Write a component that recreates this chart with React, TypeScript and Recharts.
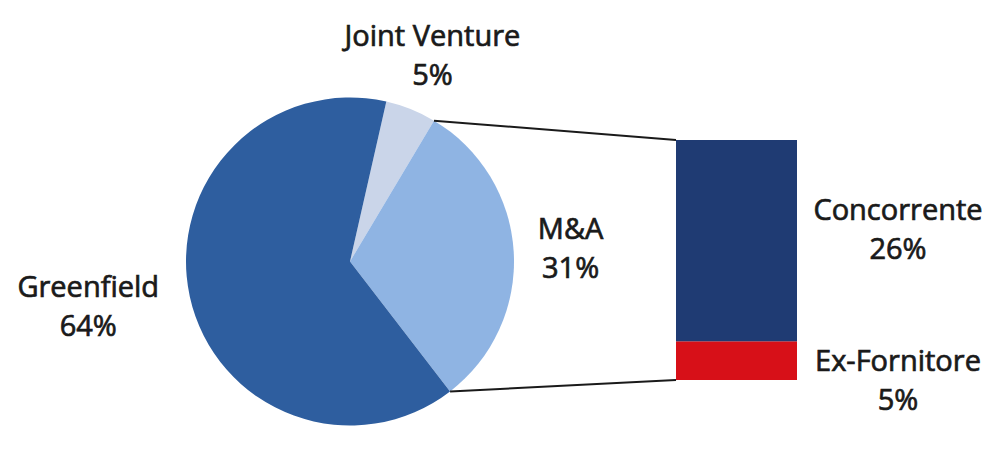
import React from 'react';
import { PieChart, Pie, Cell, BarChart, Bar, XAxis, YAxis, LabelList } from 'recharts';

// ---- data ----
const pieCategories = ['Joint Venture', 'M&A', 'Greenfield'];
const pieValues = [5, 31, 64];
const pieLabels = ['5%', '31%', '64%'];

const barCategories = ['Ex-Fornitore', 'Concorrente'];
const barValues = [5, 26];
const barLabels = ['5%', '26%'];

// ---- styles / layout ----
const W = 1006;
const H = 457;
const FONT = '"Open Sans", sans-serif';
const FONT_SIZE = 29;
const FONT_WEIGHT = 400;
const TEXT_COLOR = '#1a1a1a';
const TEXT_STROKE = 0.7;
const LINE_GAP = 39;

const pieColors = ['#CAD5E9', '#8FB4E3', '#2E5E9F'];
const barColors = ['#D71018', '#1F3B73'];

const PIE_CX = 350;
const PIE_CY = 261.5;
const PIE_R = 164;
const PIE_START = 77.2; // degrees, counter-clockwise from 3 o'clock
const pieLabelRadius = [222, 221, 268];
const pieLabelDy = [0, 0, -12.5];

const BAR_LEFT = 676;
const BAR_RIGHT = 797;
const BAR_TOP = 140;
const BAR_BOTTOM = 380;
const barLabelDx = 101;
const barLabelDy = [20, -11.5];

const RAD = Math.PI / 180;
const total = pieValues.reduce((a, b) => a + b, 0);

// boundary angle (recharts degrees) after the slice with given index
const boundaryAngle = (idx: number) => {
  let acc = 0;
  for (let i = 0; i <= idx; i++) acc += pieValues[i];
  return PIE_START - (acc / total) * 360;
};
const piePoint = (angle: number) => ({
  x: PIE_CX + PIE_R * Math.cos(-angle * RAD),
  y: PIE_CY + PIE_R * Math.sin(-angle * RAD),
});

const TwoLine = ({ x, y, a, b }: { x: number; y: number; a: string; b: string }) => (
  <text
    x={x}
    y={y}
    textAnchor="middle"
    fontFamily={FONT}
    fontSize={FONT_SIZE}
    fontWeight={FONT_WEIGHT}
    fill={TEXT_COLOR}
    stroke={TEXT_COLOR}
    strokeWidth={TEXT_STROKE}
  >
    <tspan x={x} y={y - 9.5}>{a}</tspan>
    <tspan x={x} y={y - 9.5 + LINE_GAP}>{b}</tspan>
  </text>
);

const renderPieLabel = (props: any) => {
  const { midAngle, index } = props;
  const r = pieLabelRadius[index];
  const x = PIE_CX + r * Math.cos(-midAngle * RAD);
  const y = PIE_CY + r * Math.sin(-midAngle * RAD) + pieLabelDy[index];
  return <TwoLine key={`pl-${index}`} x={x} y={y} a={pieCategories[index]} b={pieLabels[index]} />;
};

const pieData = pieCategories.map((name, i) => ({ name, value: pieValues[i] }));

const barRow: Record<string, any> = { name: 'M&A' };
barCategories.forEach((c, i) => {
  barRow[c] = barValues[i];
});
const barData = [barRow];
const barTotal = barValues.reduce((a, b) => a + b, 0);

// the M&A slice is index 1: its start boundary is after index 0, end boundary after index 1
const makeShape = (seriesIndex: number) => (props: any) => {
  const { x, y, width, height, fill } = props;
  let line = null;
  if (seriesIndex === barCategories.length - 1) {
    const p = piePoint(boundaryAngle(0));
    line = <line x1={p.x} y1={p.y} x2={x} y2={y} stroke={TEXT_COLOR} strokeWidth={2} />;
  } else if (seriesIndex === 0) {
    const p = piePoint(boundaryAngle(1));
    line = <line x1={p.x} y1={p.y} x2={x} y2={y + height} stroke={TEXT_COLOR} strokeWidth={2} />;
  }
  return (
    <g>
      <rect x={x} y={y} width={width} height={height} fill={fill} />
      {line}
    </g>
  );
};

const makeBarLabel = (seriesIndex: number) => (props: any) => {
  const { x, y, width, height } = props;
  const cx = Number(x) + Number(width) + barLabelDx;
  const cy = Number(y) + Number(height) / 2 + barLabelDy[seriesIndex];
  return <TwoLine x={cx} y={cy} a={barCategories[seriesIndex]} b={barLabels[seriesIndex]} />;
};

export default function App() {
  return (
    <div style={{ position: 'absolute', left: 0, top: 0, width: W, height: H, background: '#fff' }}>
      <div style={{ position: 'absolute', left: 0, top: 0 }}>
        <PieChart width={W} height={H} margin={{ top: 0, right: 0, bottom: 0, left: 0 }}>
          <Pie
            data={pieData}
            dataKey="value"
            nameKey="name"
            cx={PIE_CX}
            cy={PIE_CY}
            outerRadius={PIE_R}
            startAngle={PIE_START}
            endAngle={PIE_START - 360}
            stroke="none"
            label={renderPieLabel}
            labelLine={false}
            isAnimationActive={false}
          >
            {pieData.map((d, i) => (
              <Cell key={d.name} fill={pieColors[i]} />
            ))}
          </Pie>
        </PieChart>
      </div>
      <div style={{ position: 'absolute', left: 0, top: 0, pointerEvents: 'none' }}>
        <BarChart
          width={W}
          height={H}
          data={barData}
          margin={{ left: BAR_LEFT, right: W - BAR_RIGHT, top: BAR_TOP, bottom: H - BAR_BOTTOM }}
          barCategoryGap={0}
        >
          <XAxis dataKey="name" hide />
          <YAxis hide domain={[0, barTotal]} />
          {barCategories.map((c, i) => (
            <Bar
              key={c}
              dataKey={c}
              stackId="s"
              fill={barColors[i]}
              shape={makeShape(i)}
              isAnimationActive={false}
            >
              <LabelList dataKey={c} content={makeBarLabel(i)} />
            </Bar>
          ))}
        </BarChart>
      </div>
    </div>
  );
}
